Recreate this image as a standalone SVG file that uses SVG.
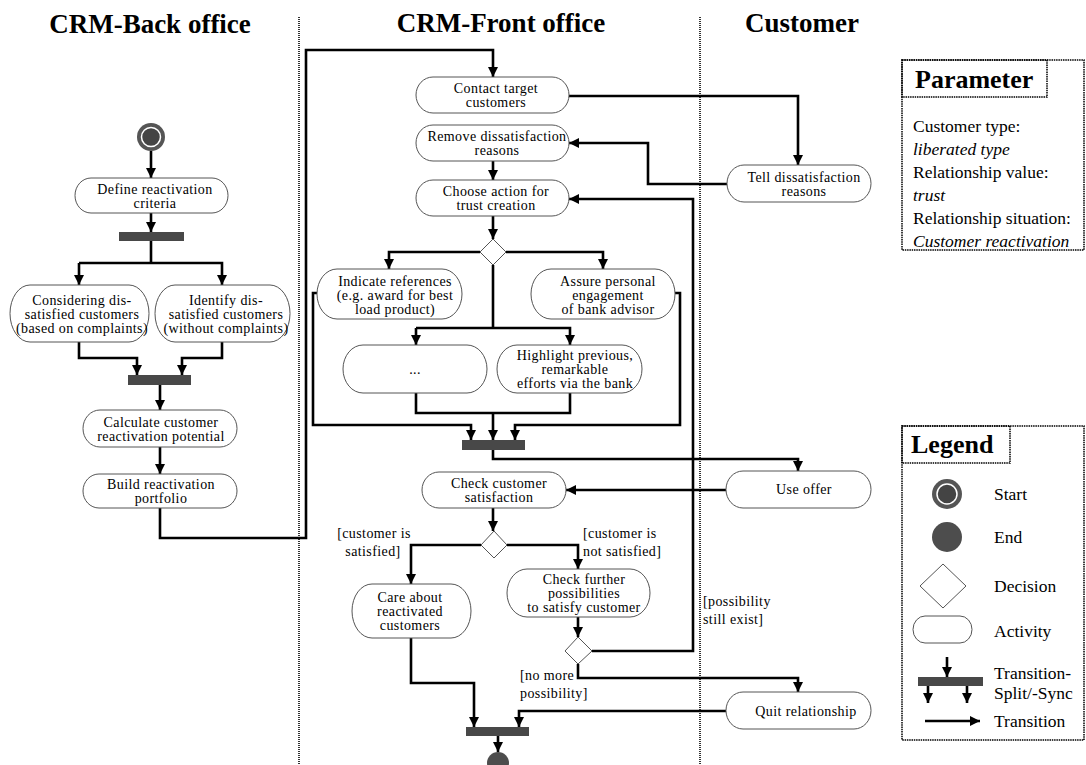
<svg xmlns="http://www.w3.org/2000/svg" width="1086" height="765" viewBox="0 0 1086 765">
<defs>
<marker id="ah" markerUnits="userSpaceOnUse" markerWidth="11" markerHeight="10" refX="10" refY="5" orient="auto">
<path d="M0,0 L10,5 L0,10 z" fill="#000"/>
</marker>
<style>
text{font-family:"Liberation Serif","Times New Roman",serif;fill:#000}
.h{font-size:27px;font-weight:bold;text-anchor:middle}
.t{font-size:14px;letter-spacing:0.4px;text-anchor:middle}
.l{font-size:14px;letter-spacing:0.4px}
.p{font-size:17.5px}
.i{font-style:italic}
.act{fill:#fff;stroke:#555;stroke-width:1}
.bar{fill:#484848}
.lane{stroke:#000;stroke-width:1.6;stroke-dasharray:1 1;fill:none}
.c{fill:none;stroke:#000;stroke-width:2.6;marker-end:url(#ah)}
.n{fill:none;stroke:#000;stroke-width:2.6}
.dec{fill:#fff;stroke:#555;stroke-width:1}
.box{fill:none;stroke:#000;stroke-width:1.5;stroke-dasharray:1.5 0.8}
</style>
</defs>
<rect width="1086" height="765" fill="#fff"/>

<g id="lanes">
<line class="lane" x1="299" y1="17" x2="299" y2="765"/>
<line class="lane" x1="700" y1="17" x2="700" y2="765"/>
<text class="h" x="150" y="33">CRM-Back office</text>
<text class="h" x="501" y="32">CRM-Front office</text>
<text class="h" x="802" y="32">Customer</text>
</g>

<g id="connectors">
<path class="c" d="M151,151 V178"/>
<path class="c" d="M151,213 V232"/>
<path class="n" d="M151,241 V263"/>
<path class="c" d="M79,263 H222 V285"/>
<path class="c" d="M79,263 V285"/>
<path class="c" d="M79,342 V358 H137 V375"/>
<path class="c" d="M222,342 V358 H182 V375"/>
<path class="c" d="M160,385 V410"/>
<path class="c" d="M160,447 V474"/>
<path class="c" d="M160,508 V538 H306 V50 H493 V77"/>
<path class="c" d="M569,96 H798 V165"/>
<path class="c" d="M727,184 H648 V143 H569"/>
<path class="c" d="M493,161 V180"/>
<path class="c" d="M493,216 V239"/>
<path class="c" d="M480,252 H389 V269"/>
<path class="c" d="M506,252 H603 V269"/>
<path class="n" d="M493,265 V328"/>
<path class="c" d="M416,328 H570 V345"/>
<path class="c" d="M416,328 V345"/>
<path class="n" d="M416,393 V413 H570 V393"/>
<path class="c" d="M493,413 V440"/>
<path class="c" d="M317,293 H313 V425 H471 V440"/>
<path class="c" d="M675,293 H680 V425 H515 V440"/>
<path class="c" d="M493,450 V459 H798 V471"/>
<path class="c" d="M726,490 H566"/>
<path class="c" d="M493,508 V531"/>
<path class="c" d="M481,545 H411 V584"/>
<path class="c" d="M507,545 H578 V569"/>
<path class="c" d="M578,617 V637"/>
<path class="c" d="M592,651 H693 V199 H569"/>
<path class="c" d="M578,664 V678 H798 V692"/>
<path class="c" d="M726,711 H519 V727"/>
<path class="c" d="M411,638 V683 H474 V727"/>
<path class="c" d="M498,736 V752"/>
<text class="t" x="374" y="538">[customer is</text>
<text class="t" x="373" y="556">satisfied]</text>
<text class="l" x="583" y="538">[customer is</text>
<text class="l" x="583" y="556">not satisfied]</text>
<text class="l" x="520" y="680">[no more</text>
<text class="l" x="520" y="698">possibility]</text>
<text class="l" x="703" y="606">[possibility</text>
<text class="l" x="703" y="624">still exist]</text>
</g>

<g id="start">
<circle cx="151" cy="137" r="14" fill="#555"/>
<circle cx="151" cy="137" r="9.5" fill="#444" stroke="#fff" stroke-width="1.5"/>
</g>
<g id="define">
<rect class="act" x="75" y="178" width="153" height="35" rx="16" ry="17.5"/>
<text class="t" x="155" y="194">Define reactivation<tspan x="155" dy="14">criteria</tspan></text>
</g>
<g id="fork1"><rect class="bar" x="119" y="232" width="65" height="9"/></g>
<g id="considering">
<rect class="act" x="10" y="285" width="139" height="57" rx="20" ry="28.5"/>
<text class="t" x="82" y="305">Considering dis-<tspan x="82" dy="14">satisfied customers</tspan><tspan x="82" dy="14">(based on complaints)</tspan></text>
</g>
<g id="identify">
<rect class="act" x="155" y="285" width="135" height="57" rx="20" ry="28.5"/>
<text class="t" x="226" y="305">Identify dis-<tspan x="226" dy="14">satisfied customers</tspan><tspan x="226" dy="14">(without complaints)</tspan></text>
</g>
<g id="join1"><rect class="bar" x="128" y="375" width="63" height="10"/></g>
<g id="calculate">
<rect class="act" x="83" y="410" width="154" height="37" rx="17" ry="18.5"/>
<text class="t" x="161" y="427">Calculate customer<tspan x="161" dy="14">reactivation potential</tspan></text>
</g>
<g id="build">
<rect class="act" x="83" y="474" width="154" height="34" rx="16" ry="17"/>
<text class="t" x="161" y="489">Build reactivation<tspan x="161" dy="14">portfolio</tspan></text>
</g>

<g id="contact">
<rect class="act" x="416" y="77" width="153" height="36" rx="17" ry="18"/>
<text class="t" x="496" y="93">Contact target<tspan x="496" dy="14">customers</tspan></text>
</g>
<g id="remove">
<rect class="act" x="416" y="125" width="153" height="36" rx="17" ry="18"/>
<text class="t" x="497" y="141">Remove dissatisfaction<tspan x="497" dy="14">reasons</tspan></text>
</g>
<g id="choose">
<rect class="act" x="416" y="180" width="153" height="36" rx="17" ry="18"/>
<text class="t" x="496" y="196">Choose action for<tspan x="496" dy="14">trust creation</tspan></text>
</g>
<g id="decision1"><path class="dec" d="M493,239 L506,252 L493,265 L480,252 z"/></g>
<g id="indicate">
<rect class="act" x="317" y="269" width="145" height="50" rx="20" ry="25"/>
<text class="t" x="395" y="286">Indicate references<tspan x="395" dy="14">(e.g. award for best</tspan><tspan x="395" dy="14">load product)</tspan></text>
</g>
<g id="assure">
<rect class="act" x="531" y="269" width="144" height="50" rx="20" ry="25"/>
<text class="t" x="608" y="286">Assure personal<tspan x="608" dy="14">engagement</tspan><tspan x="608" dy="14">of bank advisor</tspan></text>
</g>
<g id="more">
<rect class="act" x="343" y="345" width="144" height="48" rx="20" ry="24"/>
<text class="t" x="415" y="374">...</text>
</g>
<g id="highlight">
<rect class="act" x="497" y="345" width="145" height="48" rx="20" ry="24"/>
<text class="t" x="575" y="360">Highlight previous,<tspan x="575" dy="14">remarkable</tspan><tspan x="575" dy="14">efforts via the bank</tspan></text>
</g>
<g id="join2"><rect class="bar" x="462" y="440" width="63" height="10"/></g>
<g id="checksat">
<rect class="act" x="422" y="472" width="144" height="36" rx="17" ry="18"/>
<text class="t" x="499" y="488">Check customer<tspan x="499" dy="14">satisfaction</tspan></text>
</g>
<g id="decision2"><path class="dec" d="M494,531 L507,545 L494,558 L481,545 z"/></g>
<g id="care">
<rect class="act" x="352" y="584" width="119" height="54" rx="20" ry="27"/>
<text class="t" x="410" y="602">Care about<tspan x="410" dy="14">reactivated</tspan><tspan x="410" dy="14">customers</tspan></text>
</g>
<g id="checkfurther">
<rect class="act" x="507" y="569" width="143" height="48" rx="20" ry="24"/>
<text class="t" x="584" y="584">Check further<tspan x="584" dy="14">possibilities</tspan><tspan x="584" dy="14">to satisfy customer</tspan></text>
</g>
<g id="decision3"><path class="dec" d="M578,637 L592,651 L578,664 L565,651 z"/></g>
<g id="join3"><rect class="bar" x="466" y="727" width="63" height="9"/></g>
<g id="end"><circle cx="498" cy="763" r="11" fill="#4d4d4d"/></g>

<g id="tell">
<rect class="act" x="727" y="165" width="144" height="37" rx="17" ry="18.5"/>
<text class="t" x="804" y="182">Tell dissatisfaction<tspan x="804" dy="14">reasons</tspan></text>
</g>
<g id="useoffer">
<rect class="act" x="726" y="471" width="145" height="37" rx="17" ry="18.5"/>
<text class="t" x="804" y="494">Use offer</text>
</g>
<g id="quit">
<rect class="act" x="726" y="692" width="145" height="37" rx="17" ry="18.5"/>
<text class="t" x="806" y="716">Quit relationship</text>
</g>

<g id="parameter">
<rect class="box" x="902" y="60" width="182" height="190"/>
<rect fill="#fff" class="box" x="902" y="60" width="145" height="37"/>
<text x="915" y="88" font-size="26" font-weight="bold">Parameter</text>
<text class="p" x="913" y="132">Customer type:</text>
<text class="p i" x="913" y="155">liberated type</text>
<text class="p" x="913" y="178">Relationship value:</text>
<text class="p i" x="913" y="201">trust</text>
<text class="p" x="913" y="224">Relationship situation:</text>
<text class="p i" x="913" y="247">Customer reactivation</text>
</g>

<g id="legend">
<rect class="box" x="902" y="426" width="182" height="314"/>
<rect fill="#fff" class="box" x="902" y="426" width="108" height="37"/>
<text x="911" y="453" font-size="26" font-weight="bold">Legend</text>
<circle cx="947" cy="494" r="15" fill="#555"/>
<circle cx="947" cy="494" r="10" fill="#444" stroke="#fff" stroke-width="1.5"/>
<text class="p" x="994" y="500">Start</text>
<circle cx="947" cy="537" r="15" fill="#4d4d4d"/>
<text class="p" x="994" y="543">End</text>
<path class="dec" d="M943,564 L966,586 L943,608 L920,586 z"/>
<text class="p" x="994" y="592">Decision</text>
<rect class="act" x="913" y="616" width="59" height="27" rx="12" ry="13.5"/>
<text class="p" x="994" y="637">Activity</text>
<path class="c" d="M947,657 V677" stroke-width="2"/>
<rect class="bar" x="918" y="677" width="65" height="9"/>
<path class="c" d="M928,686 V703" stroke-width="2"/>
<path class="c" d="M967,686 V703" stroke-width="2"/>
<text class="p" x="994" y="679">Transition-</text>
<text class="p" x="994" y="699">Split/-Sync</text>
<path class="c" d="M925,721 H980" stroke-width="2"/>
<text class="p" x="994" y="727">Transition</text>
</g>
</svg>
